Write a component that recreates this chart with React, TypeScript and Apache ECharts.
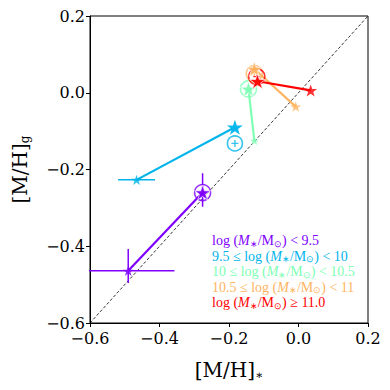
import React, { useEffect, useRef } from "react";
import * as echarts from "echarts";

const binLabels = [
  "log (M∗/M⊙) < 9.5",
  "9.5 ≤ log (M∗/M⊙) < 10",
  "10 ≤ log (M∗/M⊙) < 10.5",
  "10.5 ≤ log (M∗/M⊙) < 11",
  "log (M∗/M⊙) ≥ 11.0",
];
const binColors = ["#8000ff", "#00b4eb", "#80ffb4", "#ffb462", "#ff0000"];

// large star markers
const bigStarX = [-0.276, -0.183, -0.144, -0.127, -0.118];
const bigStarY = [-0.26, -0.09, 0.01, 0.062, 0.03];
// open circle markers
const circleX = [-0.276, -0.183, -0.144, -0.127, -0.12];
const circleY = [-0.26, -0.132, 0.01, 0.05, 0.042];
// small star markers (line end points)
const smallStarX = [-0.49, -0.466, -0.127, -0.008, 0.035];
const smallStarY = [-0.464, -0.227, -0.125, -0.036, 0.006];

// error bars
const errorBars: { bin: number; x: number; y: number; xl: number; xh: number; yl: number; yh: number }[] = [
  { bin: 0, x: -0.49, y: -0.464, xl: 0.133, xh: 0.133, yl: 0.032, yh: 0.057 },
  { bin: 0, x: -0.276, y: -0.26, xl: 0, xh: 0, yl: 0.037, yh: 0.05 },
  { bin: 1, x: -0.466, y: -0.227, xl: 0.053, xh: 0.053, yl: 0, yh: 0 },
];

const oneToOne = [
  [-0.6, -0.6],
  [0.2, 0.2],
];

const xTicks = { min: -0.6, max: 0.2, interval: 0.2 };
const yTicks = { min: -0.6, max: 0.2, interval: 0.2 };

const STAR =
  "path://M50 0 L61.8 35.1 L98.9 35.1 L69.1 56.7 L80.2 91 L50 70 L19.8 91 L30.9 56.7 L1.1 35.1 L38.2 35.1 Z";
const PLUS = "path://M4 0 L6 0 L6 4 L10 4 L10 6 L6 6 L6 10 L4 10 L4 6 L0 6 L0 4 L4 4 Z";

const FONT = "DejaVu Serif";
const LFONT = "Liberation Serif";

const fmt = (v: number) => {
  const s = Math.abs(v) < 1e-9 ? "0.0" : v.toFixed(1);
  return s.replace("-", "\u2212");
};

function richLabel(label: string) {
  return label
    .replace("(M∗/M⊙)", "({i|M}{s|∗}/M{s|⊙})")
    .split(/(\{[is]\|[^}]*\})/)
    .map((p) => (p.startsWith("{") ? p : p ? `{n|${p}}` : ""))
    .join("");
}

export default function App() {
  const ref = useRef<HTMLDivElement>(null);
  useEffect(() => {
    if (!ref.current) return;
    const chart = echarts.init(ref.current, undefined, { renderer: "svg" });
    const series: any[] = [];

    series.push({
      type: "line",
      data: oneToOne,
      symbol: "none",
      lineStyle: { color: "#000", width: 0.8, type: [3, 2] },
      z: 1,
      silent: true,
    });

    for (let i = 0; i < binColors.length; i++) {
      const c = binColors[i];
      series.push({
        type: "line",
        data: [
          [bigStarX[i], bigStarY[i]],
          [smallStarX[i], smallStarY[i]],
        ],
        symbol: "none",
        lineStyle: { color: c, width: 2.2 },
        z: 2,
      });
    }

    errorBars.forEach((e) => {
      const c = binColors[e.bin];
      if (e.xl || e.xh)
        series.push({
          type: "line",
          data: [
            [e.x - e.xl, e.y],
            [e.x + e.xh, e.y],
          ],
          symbol: "none",
          lineStyle: { color: c, width: 1.5 },
          z: 2,
        });
      if (e.yl || e.yh)
        series.push({
          type: "line",
          data: [
            [e.x, e.y - e.yl],
            [e.x, e.y + e.yh],
          ],
          symbol: "none",
          lineStyle: { color: c, width: 1.5 },
          z: 2,
        });
    });

    for (let i = 0; i < binColors.length; i++) {
      const c = binColors[i];
      series.push({
        type: "scatter",
        data: [[circleX[i], circleY[i]]],
        symbol: "circle",
        symbolSize: i === 1 ? 15 : 16,
        itemStyle: { color: "rgba(255,255,255,0)", borderColor: c, borderWidth: 1.6 },
        z: 3,
      });
      series.push({
        type: "scatter",
        data: [[circleX[i], circleY[i]]],
        symbol: PLUS,
        symbolSize: 7,
        itemStyle: { color: c },
        z: 3,
      });
      series.push({
        type: "scatter",
        data: [[bigStarX[i], bigStarY[i]]],
        symbol: STAR,
        symbolKeepAspect: true,
        symbolSize: i === 1 ? 16 : 16,
        itemStyle: { color: c, borderColor: "#fff", borderWidth: i === 1 ? 0 : 0.7, opacity: 0.95 },
        z: 4,
      });
      series.push({
        type: "scatter",
        data: [[smallStarX[i], smallStarY[i]]],
        symbol: STAR,
        symbolKeepAspect: true,
        symbolSize: i === 2 ? 9 : i === 4 ? 13 : 11,
        itemStyle: { color: c },
        z: 4,
      });
    }

    const subRich = {
      n: { fontFamily: FONT, fontSize: 20, color: "#000", lineHeight: 24 },
      s: { fontFamily: FONT, fontSize: 12, color: "#000", lineHeight: 12, padding: [10, 0, 0, 0], verticalAlign: "middle" },
    };

    const legendTexts = binLabels.map((lab, i) => ({
      type: "text",
      left: 212,
      top: 233 + i * 15.5,
      style: {
        text: richLabel(lab),
        rich: {
          n: { fontFamily: LFONT, fontSize: 14, fill: binColors[i], lineHeight: 15 },
          i: { fontFamily: LFONT, fontSize: 14, fontStyle: "italic", fill: binColors[i], lineHeight: 15 },
          s: { fontFamily: LFONT, fontSize: 9, fill: binColors[i], lineHeight: 9, padding: [6, 0, 0, 0], verticalAlign: "middle" },
        },
      },
      z: 10,
    }));

    chart.setOption({
      animation: false,
      backgroundColor: "#fff",
      grid: { left: 90, right: 22, top: 16, bottom: 67, show: true, borderColor: "#000", borderWidth: 1, backgroundColor: "transparent" },
      xAxis: {
        type: "value",
        ...xTicks,
        name: "{n|[M/H]}{s|∗}",
        nameLocation: "middle",
        nameGap: 35,
        nameTextStyle: { rich: subRich },
        axisLine: { show: true, onZero: false, lineStyle: { color: "#000", width: 1 } },
        axisTick: { show: true, inside: false, length: 4, lineStyle: { color: "#000" } },
        axisLabel: { formatter: fmt, color: "#000", fontFamily: FONT, fontSize: 16, margin: 7 },
        splitLine: { show: false },
      },
      yAxis: {
        type: "value",
        ...yTicks,
        name: "{n|[M/H]}{s|g}",
        nameLocation: "middle",
        nameGap: 58,
        nameTextStyle: { rich: subRich },
        axisLine: { show: true, onZero: false, lineStyle: { color: "#000", width: 1 } },
        axisTick: { show: true, inside: false, length: 4, lineStyle: { color: "#000" } },
        axisLabel: { formatter: fmt, color: "#000", fontFamily: FONT, fontSize: 16, margin: 5 },
        splitLine: { show: false },
      },
      series,
      graphic: legendTexts,
    });
    return () => chart.dispose();
  }, []);
  return <div ref={ref} style={{ width: 390, height: 390, position: "absolute", left: 0, top: 0 }} />;
}
